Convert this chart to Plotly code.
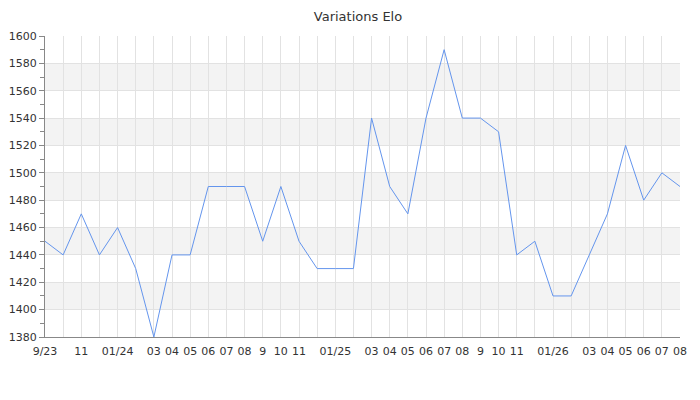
import plotly.graph_objects as go

months = ["9/23", "", "11", "", "01/24", "", "03", "04", "05", "06", "07", "08",
          "9", "10", "11", "", "01/25", "", "03", "04", "05", "06", "07", "08",
          "9", "10", "11", "", "01/26", "", "03", "04", "05", "06", "07", "08"]
elo = [1450, 1440, 1470, 1440, 1460, 1430, 1380, 1440, 1440, 1490, 1490, 1490,
       1450, 1490, 1450, 1430, 1430, 1430, 1540, 1490, 1470, 1540, 1590, 1540,
       1540, 1530, 1440, 1450, 1410, 1410, 1440, 1470, 1520, 1480, 1500, 1490]

y_min, y_max, y_step = 1380, 1600, 20
x_idx = list(range(len(elo)))

fig = go.Figure()
fig.add_trace(go.Scatter(x=x_idx, y=elo, mode="lines",
                         line=dict(color="#6495ED", width=1), hoverinfo="skip"))

# alternating bands
shapes = []
v = y_min + y_step
k = 1
while v < y_max:
    if k % 2 == 1:
        shapes.append(dict(type="rect", xref="paper", yref="y", x0=0, x1=1,
                           y0=v, y1=v + y_step, fillcolor="#f3f3f3",
                           line=dict(width=0), layer="below"))
    v += y_step
    k += 1

fig.update_layout(
    width=700, height=400,
    margin=dict(l=37, r=28, t=28, b=71),
    paper_bgcolor="white", plot_bgcolor="white",
    font=dict(family="DejaVu Sans", size=11, color="#333"),
    title=dict(text="Variations Elo", x=0.5, xanchor="center", y=1, yanchor="top",
               pad=dict(t=4), font=dict(size=13, color="#333")),
    showlegend=False,
    shapes=shapes,
    xaxis=dict(range=[0, len(elo) - 1], tickvals=x_idx, ticktext=months,
               showgrid=True, gridcolor="#e2e2e2", gridwidth=1,
               showline=True, linecolor="#888", linewidth=1,
               ticks="", zeroline=False, automargin=False, ticklabelstandoff=4,
               tickfont=dict(size=11, color="#333")),
    yaxis=dict(range=[y_min, y_max], dtick=y_step, tick0=y_min,
               showgrid=True, gridcolor="#e2e2e2", gridwidth=1,
               showline=True, linecolor="#888", linewidth=1,
               ticks="outside", ticklen=5, tickcolor="#888",
               minor=dict(dtick=y_step / 2, ticks="outside", ticklen=4,
                          tickcolor="#888", showgrid=False),
               zeroline=False, automargin=False,
               tickfont=dict(size=11, color="#333")),
)

fig.write_html("out.html")
